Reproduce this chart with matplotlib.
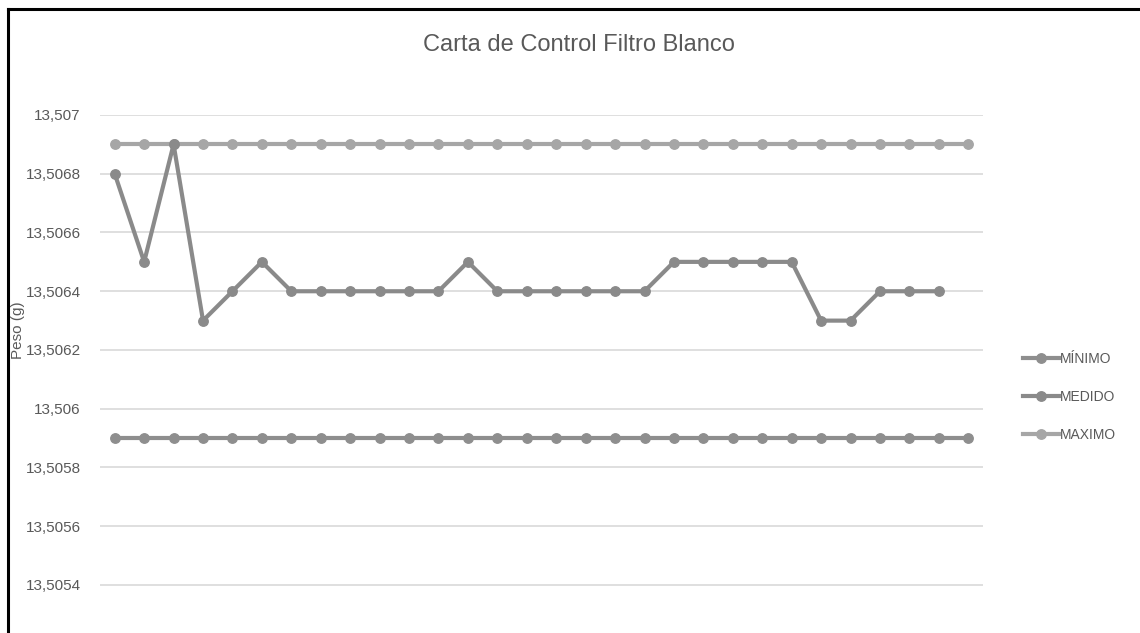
import matplotlib
matplotlib.use("Agg")
import matplotlib.pyplot as plt
from matplotlib.lines import Line2D
from matplotlib.ticker import FuncFormatter

# Series data (peso en gramos)
muestras = list(range(1, 31))
minimo = [13.5059] * 30
maximo = [13.5069] * 30
medido = [13.5068, 13.5065, 13.5069, 13.5063, 13.5064, 13.5065, 13.5064,
          13.5064, 13.5064, 13.5064, 13.5064, 13.5064, 13.5065, 13.5064,
          13.5064, 13.5064, 13.5064, 13.5064, 13.5064, 13.5065, 13.5065,
          13.5065, 13.5065, 13.5065, 13.5063, 13.5063, 13.5064, 13.5064,
          13.5064]
ticks_y = [13.5054, 13.5056, 13.5058, 13.5060, 13.5062, 13.5064,
           13.5066, 13.5068, 13.5070]

titulo = "Carta de Control Filtro Blanco"
etiqueta_y = "Peso (g)"

plt.rcParams["font.family"] = ["Liberation Sans", "DejaVu Sans"]

W, H = 1140, 633
fig = plt.figure(figsize=(W / 100, H / 100), dpi=100)

# Plot area (extends slightly past the bottom edge)
x0, x1 = 100 / W, 983 / W
ytop = 1 - 115 / H
ybot = 1 - 643.75 / H
ax = fig.add_axes([x0, ybot, x1 - x0, ytop - ybot])

idx_full = list(range(len(muestras)))
idx_med = list(range(len(medido)))

c_min = "#8e8e8e"
c_med = "#8a8a8a"
c_max = "#a6a6a6"
lw = 3.0
ms = 6.8

ax.plot(idx_full, minimo, color=c_min, lw=lw, marker="o", ms=ms, label="MÍNIMO", zorder=3)
ax.plot(idx_med, medido, color=c_med, lw=lw, marker="o", ms=ms, label="MEDIDO", zorder=4)
ax.plot(idx_full, maximo, color=c_max, lw=lw, marker="o", ms=ms, label="MAXIMO", zorder=3)

ax.set_xlim(-0.5, len(muestras) - 0.5)
ax.set_ylim(13.5052, 13.5070)
ax.set_yticks(ticks_y)


def fmt(v, pos):
    s = f"{v:.4f}".rstrip("0").rstrip(".")
    return s.replace(".", ",")


ax.yaxis.set_major_formatter(FuncFormatter(fmt))
ax.grid(axis="y", color="#d9d9d9", lw=1.2)
ax.set_axisbelow(True)
ax.set_xticks([])
for sp in ax.spines.values():
    sp.set_visible(False)
ax.tick_params(axis="y", length=0, pad=14, labelsize=11, labelcolor="#595959")

fig.text(579 / W, 1 - 45 / H, titulo, ha="center", va="center",
         fontsize=17, color="#595959")
fig.text(18 / W, 1 - 330 / H, etiqueta_y, rotation=90, ha="center",
         va="center", fontsize=11, color="#595959")

leg = ax.legend(loc="center left", bbox_to_anchor=(1010 / W, 1 - 397 / H),
                bbox_transform=fig.transFigure, frameon=False, fontsize=10,
                handlelength=2.6, handletextpad=0.1, labelspacing=1.75,
                labelcolor="#595959")

# Frame lines (top and left)
fig.add_artist(Line2D([8 / W, 1], [1 - 9 / H, 1 - 9 / H], color="black", lw=2.2,
                      transform=fig.transFigure))
fig.add_artist(Line2D([8 / W, 8 / W], [0, 1 - 9 / H], color="black", lw=2.2,
                      transform=fig.transFigure))

fig.savefig("out.png", dpi=100, facecolor="white")
